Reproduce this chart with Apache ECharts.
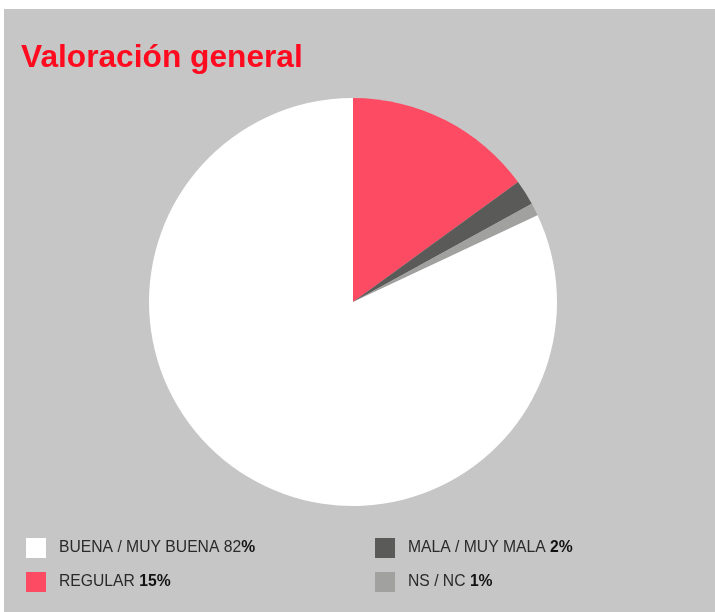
<!DOCTYPE html>
<html>
<head>
<meta charset="utf-8">
<script src="https://cdn.jsdelivr.net/npm/echarts@6/dist/echarts.min.js"></script>
<style>
  html, body { margin: 0; padding: 0; background: #fff; }
  #chart { position: absolute; left: 4px; top: 9px; width: 711px; height: 603px; }
</style>
</head>
<body>
<div id="chart"></div>
<script>
// datos de la valoración (orden horario desde las 12)
const categories = ['REGULAR', 'MALA / MUY MALA', 'NS / NC', 'BUENA / MUY BUENA']
const values = [15, 2, 1, 82]
// parte normal / parte en negrita de cada leyenda
const legendPlain = { 'BUENA / MUY BUENA': 'BUENA / MUY BUENA 82', 'REGULAR': 'REGULAR ', 'MALA / MUY MALA': 'MALA / MUY MALA ', 'NS / NC': 'NS / NC ' }
const legendBold = { 'BUENA / MUY BUENA': '%', 'REGULAR': '15%', 'MALA / MUY MALA': '2%', 'NS / NC': '1%' }
const sliceColors = ['#fe4b64', '#5a5a59', '#a1a19f', '#ffffff']

const chart = echarts.init(document.getElementById('chart'))

const legendText = {
  padding: [0, 0, 0, 8],
  rich: {
    n: { fontFamily: 'Liberation Sans, Arial, sans-serif', fontSize: 15.7, color: '#2a2a2a' },
    b: { fontFamily: 'Liberation Sans, Arial, sans-serif', fontSize: 15.7, color: '#111', fontWeight: 'bold' }
  }
}
const fmt = name => '{n|' + legendPlain[name] + '}{b|' + legendBold[name] + '}'

const legendBase = {
  orient: 'vertical',
  top: 529,
  padding: 0,
  itemWidth: 20,
  itemHeight: 20,
  itemGap: 14,
  icon: 'rect',
  selectedMode: false,
  formatter: fmt,
  textStyle: legendText
}

chart.setOption({
  backgroundColor: '#c6c6c6',
  animation: false,
  title: {
    text: 'Valoración general',
    left: 17,
    top: 33,
    padding: 0,
    textStyle: {
      fontFamily: 'Liberation Sans, Arial, sans-serif',
      fontSize: 31.7,
      fontWeight: 'bold',
      color: '#ff0a1f'
    }
  },
  legend: [
    Object.assign({}, legendBase, { left: 22, data: ['BUENA / MUY BUENA', 'REGULAR'] }),
    Object.assign({}, legendBase, { left: 371, data: ['MALA / MUY MALA', 'NS / NC'] })
  ],
  series: [
    {
      type: 'pie',
      center: [349, 293],
      radius: [0, 204],
      startAngle: 90,
      clockwise: true,
      label: { show: false },
      labelLine: { show: false },
      emphasis: { disabled: true },
      itemStyle: { borderWidth: 0 },
      data: categories.map((c, i) => ({
        name: c,
        value: values[i],
        itemStyle: { color: sliceColors[i] }
      }))
    }
  ]
})
</script>
</body>
</html>
